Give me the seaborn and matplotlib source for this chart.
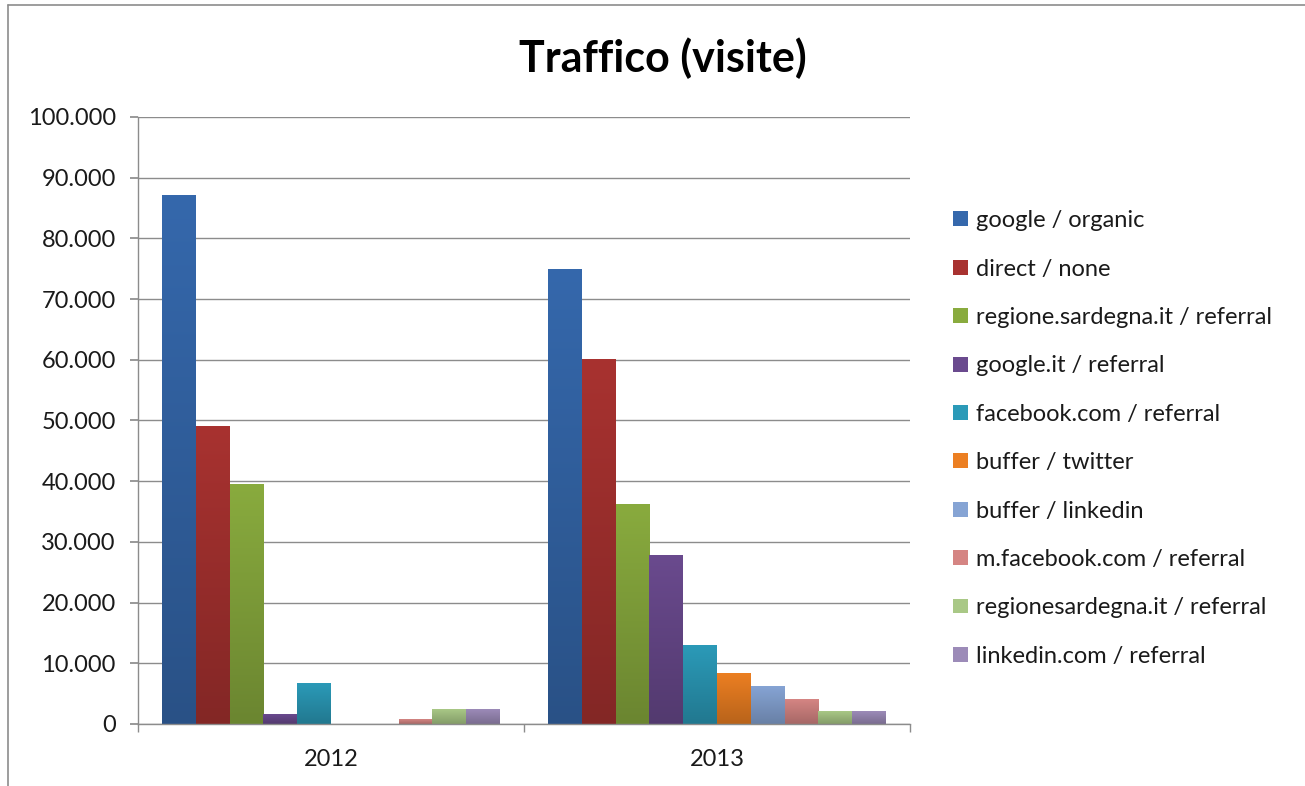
import matplotlib
matplotlib.use("Agg")
import matplotlib.pyplot as plt
from matplotlib.lines import Line2D
from matplotlib.ticker import FuncFormatter, FixedLocator
from matplotlib.colors import LinearSegmentedColormap, to_rgb
import seaborn as sns
import pandas as pd
import numpy as np

years = ["2012", "2013"]
sources = [
    "google / organic",
    "direct / none",
    "regione.sardegna.it / referral",
    "google.it / referral",
    "facebook.com / referral",
    "buffer / twitter",
    "buffer / linkedin",
    "m.facebook.com / referral",
    "regionesardegna.it / referral",
    "linkedin.com / referral",
]
visits_2012 = [87000, 49000, 39500, 1600, 6750, 0, 0, 700, 2400, 2400]
visits_2013 = [74900, 60000, 36100, 27800, 12900, 8300, 6200, 4100, 2100, 2100]
colors = ["#3568AC", "#A83230", "#89AB3E", "#6A4A8E", "#2B9AB8",
          "#EC7F22", "#86A4D4", "#D58583", "#A9C886", "#9C8BB8"]

rows = []
for y, vals in zip(years, [visits_2012, visits_2013]):
    for s, v in zip(sources, vals):
        rows.append({"year": y, "source": s, "visits": v})
df = pd.DataFrame(rows)

sns.set_theme(style="white")
plt.rcParams["font.family"] = ["Lato", "DejaVu Sans"]

fig = plt.figure(figsize=(13.05, 7.86), dpi=100)
ax = fig.add_axes([138 / 1305, 62 / 786, 772 / 1305, 607 / 786])

sns.barplot(data=df, x="year", y="visits", hue="source", hue_order=sources,
            palette=colors, width=0.875, saturation=1, ax=ax, linewidth=0)

handles, labels = ax.get_legend_handles_labels()
leg = ax.legend(handles, labels, loc="upper left", bbox_to_anchor=(1.044, 0.862),
                frameon=False, fontsize=17, handlelength=0.6, handleheight=0.6,
                handletextpad=0.35, labelspacing=1.16, borderaxespad=0)
for t in leg.get_texts():
    t.set_color("#1a1a1a")

# vertical gradient on bars (lighter top, darker bottom)
for patch in list(ax.patches):
    x0, y0 = patch.get_x(), patch.get_y()
    w, h = patch.get_width(), patch.get_height()
    if h <= 0:
        continue
    top = np.array(to_rgb(patch.get_facecolor()))
    bottom = top * 0.78
    cmap = LinearSegmentedColormap.from_list("g", [top, bottom])
    grad = np.linspace(0, 1, 256).reshape(-1, 1)
    ax.imshow(grad, extent=[x0, x0 + w, y0, y0 + h], aspect="auto", cmap=cmap,
              zorder=patch.get_zorder() + 0.1, interpolation="bilinear")

ax.set_xlim(-0.5, 1.5)
ax.set_ylim(0, 100000)
ax.set_aspect("auto")
ax.set_yticks(range(0, 100001, 10000))
ax.yaxis.set_major_formatter(FuncFormatter(lambda v, p: f"{int(v):,}".replace(",", ".")))
ax.grid(axis="y", color="#8C8C8C", linewidth=1.0)
ax.set_axisbelow(True)
ax.set_xlabel("")
ax.set_ylabel("")

for side in ["top", "right"]:
    ax.spines[side].set_visible(False)
for side in ["left", "bottom"]:
    ax.spines[side].set_color("#8C8C8C")
    ax.spines[side].set_linewidth(1.0)

ax.tick_params(axis="y", which="major", left=True, length=6, color="#8C8C8C",
               labelsize=17, labelcolor="#1a1a1a", pad=10)
ax.tick_params(axis="x", which="major", bottom=False, labelsize=17,
               labelcolor="#1a1a1a", pad=12)
ax.xaxis.set_minor_locator(FixedLocator([-0.5, 0.5, 1.5]))
ax.tick_params(axis="x", which="minor", bottom=True, length=6, color="#8C8C8C")

fig.text(663 / 1305, 1 - 58 / 786, "Traffico (visite)", ha="center", va="center",
         fontsize=31, fontweight="bold", color="black")

fig.add_artist(Line2D([8 / 1305, 8 / 1305], [0, 1 - 5 / 786], color="#8C8C8C",
                      linewidth=1.2, transform=fig.transFigure))
fig.add_artist(Line2D([8 / 1305, 1], [1 - 5 / 786, 1 - 5 / 786], color="#8C8C8C",
                      linewidth=1.2, transform=fig.transFigure))

fig.savefig("out.png", dpi=100)
